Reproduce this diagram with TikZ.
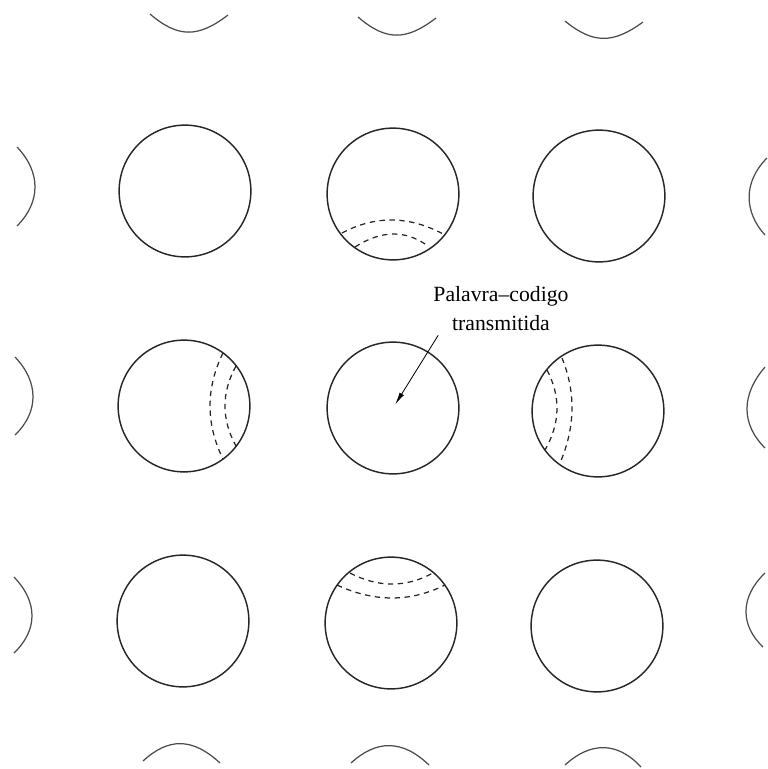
\documentclass[tikz,border=0pt]{standalone}
\usepackage{fontspec}
\setmainfont{Liberation Serif}
\usetikzlibrary{arrows.meta}

\begin{document}
\begin{tikzpicture}[
    x=0.17mm, y=-0.17mm,
    font=\fontsize{10.5}{14}\selectfont,
    esfera/.style={
        circle,
        draw=black!85,
        line width=0.7pt,
        minimum size=22.4mm,
        inner sep=0pt
    },
    vizinha/.style={draw=black!70, line width=0.6pt},
    decisao/.style={draw=black!85, line width=0.6pt, dash pattern=on 2.6pt off 2.2pt},
    rotulo/.style={align=center, inner sep=2pt},
    seta/.style={-{Latex[length=6pt,width=2.4pt]}, line width=0.4pt, shorten >=2pt}
]
\useasboundingbox (0,0) rectangle (768,769);

% esferas das palavras-codigo
\foreach \x/\y/\n in {185/191/a1, 393/194/a2, 599/196/a3,
                      184/406/b1, 393/408/b2, 598/411/b3,
                      183/621/c1, 391/623/c2, 597/626/c3}
    \node[esfera] (\n) at (\x,\y) {};

% esferas vizinhas cortadas pela borda
\draw[vizinha] (150,14) .. controls (178,38) and (198,38) .. (228,15);
\draw[vizinha] (358,17) .. controls (386,41) and (406,41) .. (436,18);
\draw[vizinha] (565,21) .. controls (593,44) and (613,44) .. (643,22);
\draw[vizinha] (143,761) .. controls (168,738) and (192,737) .. (220,763);
\draw[vizinha] (351,763) .. controls (376,740) and (402,739) .. (429,765);
\draw[vizinha] (565,765) .. controls (590,742) and (617,741) .. (641,767);
\draw[vizinha] (17,147) .. controls (41,172) and (41,202) .. (17,226);
\draw[vizinha] (15,357) .. controls (39,382) and (39,412) .. (15,435);
\draw[vizinha] (14,577) .. controls (38,602) and (38,630) .. (14,653);
\draw[vizinha] (767,158) .. controls (743,182) and (744,212) .. (765,235);
\draw[vizinha] (765,367) .. controls (741,395) and (741,424) .. (765,448);
\draw[vizinha] (765,573) .. controls (740,597) and (740,625) .. (763,647);

% fronteiras tracejadas
\draw[decisao] (342,233) .. controls (375.7,215) and (410,215.7) .. (445,235);
\draw[decisao] (355,247) .. controls (381.3,230) and (405.7,229.7) .. (428,246);
\draw[decisao] (223,353) .. controls (205.7,388.3) and (205.7,423.7) .. (223,459);
\draw[decisao] (236,366) .. controls (221.3,392.7) and (221.3,419.3) .. (236,446);
\draw[decisao] (562,358) .. controls (576,392.3) and (575.3,427.3) .. (560,463);
\draw[decisao] (547,370) .. controls (561,396.7) and (560.3,423.3) .. (545,450);
\draw[decisao] (350,573) .. controls (378.3,587.7) and (406,587.7) .. (433,573);
\draw[decisao] (337,585) .. controls (374.3,602.3) and (410.3,602.3) .. (445,585);

\node[rotulo, anchor=north] (lbl) at (501,282) {Palavra--codigo\\transmitida};
\draw[seta] (lbl.-157) -- (b2.center);

\end{tikzpicture}
\end{document}
